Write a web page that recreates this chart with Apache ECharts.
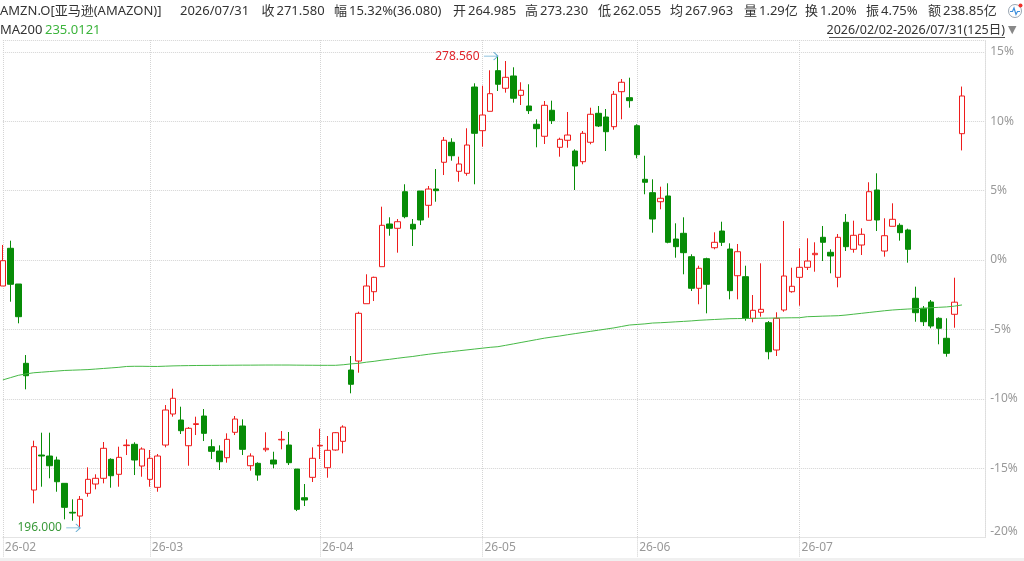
<!DOCTYPE html>
<html>
<head>
<meta charset="utf-8">
<script src="https://cdn.jsdelivr.net/npm/echarts@6/dist/echarts.min.js"></script>
<style>
  html, body { margin: 0; padding: 0; background: #fff; }
  #chart { width: 1024px; height: 561px; }
</style>
</head>
<body>
<div id="chart"></div>
<script>
// trading days per month (2026)
const febDays = [2,3,4,5,6,9,10,11,12,13,17,18,19,20,23,24,25,26,27];
const marDays = [2,3,4,5,6,9,10,11,12,13,16,17,18,19,20,23,24,25,26,27,30,31];
const aprDays = [1,2,6,7,8,9,10,13,14,15,16,17,20,21,22,23,24,27,28,29,30];
const mayDays = [1,4,5,6,7,8,11,12,13,14,15,18,19,20,21,22,26,27,28,29];
const junDays = [1,2,3,4,5,8,9,10,11,12,15,16,17,18,22,23,24,25,26,29,30];
const julDays = [1,2,6,7,8,9,10,13,14,15,16,17,20,21,22,23,24,27,28,29,30,31];

const openPrices = [238.33,244.93,238.68,224.80,202.63,208.75,208.58,207.88,203.80,198.73,
  198.08,202.05,203.68,204.68,208.00,205.38,210.40,210.63,206.83,204.50,
  203.10,210.50,215.93,214.88,210.38,214.10,215.58,210.21,209.45,208.28,
  212.73,213.83,206.88,207.30,209.68,207.88,211.40,210.50,206.30,201.28,
  204.85,210.35,206.53,209.63,211.15,223.63,225.20,235.23,237.33,241.71,
  249.18,248.43,254.83,249.13,254.95,252.45,255.30,259.98,263.48,258.40,
  258.05,273.15,265.51,268.90,276.01,272.93,275.08,271.70,269.83,266.63,
  264.53,269.08,262.60,263.83,261.95,260.08,263.48,268.55,267.90,266.21,
  272.33,271.28,266.38,257.00,254.66,253.08,254.08,246.55,247.55,243.46,
  237.93,243.11,245.03,247.95,244.80,240.13,239.96,232.68,233.73,231.91,
  227.13,234.13,237.33,239.85,241.60,243.81,246.85,244.23,239.85,249.48,
  244.75,245.50,249.83,255.13,244.45,248.78,248.95,248.13,236.18,234.43,
  235.53,232.68,229.18,233.38,264.985];

const closePrices = [242.76,238.63,232.96,222.63,210.21,208.58,206.88,204.08,199.60,198.60,
  201.00,204.50,204.68,209.93,205.13,208.35,210.50,207.88,209.80,208.18,
  208.58,216.63,218.68,213.01,213.43,214.23,212.55,209.40,207.58,211.50,
  215.05,209.75,208.58,205.25,209.93,207.18,211.50,207.41,199.25,200.88,
  208.18,210.45,209.58,212.66,213.65,221.13,233.55,238.33,239.85,248.95,
  248.43,249.58,250.46,248.30,249.88,255.30,255.01,263.83,261.13,259.68,
  263.00,265.05,268.25,271.98,273.63,274.85,271.18,272.58,269.01,265.86,
  269.95,267.26,264.00,264.75,259.33,265.05,268.38,266.33,265.33,271.88,
  273.98,270.76,261.31,256.48,250.05,253.68,245.98,245.21,244.16,237.93,
  241.43,238.63,245.98,245.98,237.51,244.33,232.68,234.08,234.25,226.83,
  232.68,240.08,238.28,241.60,242.70,244.05,245.98,243.58,246.85,245.21,
  247.20,247.38,254.83,249.88,247.13,250.00,247.66,244.75,233.66,232.08,
  231.33,230.93,226.55,235.50,271.58];

const lowPrices = [238.33,235.58,231.80,220.25,200.30,203.21,204.68,202.33,197.50,197.26,
  196.00,201.46,202.75,203.80,203.03,203.21,208.75,205.25,204.96,203.21,
  202.33,210.10,215.46,212.43,206.88,212.25,211.20,208.05,206.13,207.41,
  212.25,208.75,206.01,204.26,209.33,206.43,209.75,207.00,198.95,199.83,
  204.03,208.05,204.78,209.51,209.05,219.55,223.16,235.23,235.70,241.71,
  247.13,244.16,250.18,245.33,249.00,250.28,253.08,257.75,260.26,256.58,
  257.63,256.13,262.71,268.90,272.45,272.16,270.41,270.00,268.43,262.60,
  263.18,266.68,260.96,262.53,255.13,259.63,263.13,266.15,261.95,265.68,
  267.50,269.53,260.68,254.38,247.66,251.75,245.80,243.28,240.38,237.45,
  235.13,233.55,244.75,245.33,236.00,236.00,232.26,231.98,232.96,225.50,
  226.08,233.83,237.16,234.88,241.13,240.83,242.70,240.55,238.10,244.45,
  244.16,243.75,249.83,247.95,243.46,248.78,246.26,242.41,232.08,231.33,
  230.93,228.13,225.96,231.03,262.055];

const highPrices = [245.51,246.26,238.68,226.25,211.26,212.66,212.66,208.46,203.80,201.00,
  201.58,206.60,205.38,211.03,208.18,210.21,211.50,210.98,210.10,209.63,
  208.93,217.50,220.36,217.21,213.65,215.46,216.80,211.50,210.45,212.55,
  215.58,215.00,209.05,207.48,212.73,209.33,212.95,212.78,206.30,203.68,
  210.10,213.36,212.08,212.78,213.95,226.08,233.83,240.38,239.96,252.21,
  250.35,250.05,256.13,250.05,254.95,255.83,258.80,264.40,264.18,260.96,
  265.93,273.80,273.38,276.08,278.56,277.70,276.60,273.98,273.63,267.50,
  270.70,270.76,264.28,268.78,262.25,265.45,269.53,269.83,269.30,272.45,
  274.55,274.78,266.63,261.13,257.00,255.71,256.30,249.30,250.35,243.88,
  241.88,243.28,247.73,249.58,245.80,245.68,241.88,236.75,242.30,232.20,
  233.73,249.70,241.53,244.93,246.68,245.98,248.83,244.75,247.43,250.93,
  249.76,248.43,256.48,258.05,250.18,252.80,249.30,248.36,238.21,234.83,
  235.88,232.85,232.68,239.78,273.23];

const ma200 = [221.9,222.3,222.7,222.95,223.15,223.25,223.35,223.45,223.55,223.6,
  223.65,223.7,223.8,223.9,224.0,224.1,224.25,224.28,224.28,224.26,
  224.25,224.3,224.35,224.38,224.4,224.42,224.43,224.44,224.45,224.46,
  224.47,224.48,224.48,224.49,224.5,224.5,224.5,224.5,224.48,224.47,
  224.46,224.45,224.45,224.45,224.55,224.7,224.8,225.0,225.15,225.35,
  225.5,225.68,225.85,226.0,226.2,226.38,226.55,226.7,226.85,227.0,
  227.15,227.3,227.45,227.6,227.71,227.95,228.2,228.45,228.7,228.95,
  229.2,229.4,229.58,229.8,230.0,230.2,230.4,230.6,230.8,231.0,
  231.25,231.5,231.6,231.7,231.85,231.9,231.98,232.06,232.14,232.22,
  232.33,232.4,232.47,232.54,232.61,232.63,232.65,232.67,232.69,232.71,
  232.73,232.75,232.77,232.78,232.96,233.0,233.05,233.09,233.13,233.25,
  233.4,233.55,233.7,233.85,234.0,234.13,234.22,234.3,234.36,234.42,
  234.53,234.6,234.67,234.8,235.0121];

// 0% reference price of the right-hand percent axis
const basePrice = 242.88;
const pctTicks = [-20, -15, -10, -5, 0, 5, 10, 15];
// quote fields not derivable from OHLC
const avgPrice = '267.963', volumeText = '1.29亿', turnoverText = '1.20%', amountText = '238.85亿';

const categories = [];
[['02', febDays], ['03', marDays], ['04', aprDays], ['05', mayDays], ['06', junDays], ['07', julDays]]
  .forEach(([m, days]) => days.forEach(d => categories.push('2026/' + m + '/' + String(d).padStart(2, '0'))));
const n = categories.length;
const xData = categories.concat(['', '', '']);
const monthStarts = new Set();
categories.forEach((c, i) => { if (i === 0 || c.slice(5, 7) !== categories[i - 1].slice(5, 7)) monthStarts.add(i); });
const isMonthStart = (i) => monthStarts.has(i);

const kData = openPrices.map((o, i) => [o, closePrices[i], lowPrices[i], highPrices[i]]);

const RED = '#ee1c1c', GREEN = '#078c07', GRAY = '#999';
const FONT = '"Noto Sans", "Noto Sans CJK SC", sans-serif';

const last = n - 1;
const close = closePrices[last], prev = closePrices[last - 1];
const chg = close - prev;
const pct = chg / prev * 100;
const amp = (highPrices[last] - lowPrices[last]) / prev * 100;

const minVal = basePrice * (1 + pctTicks[0] / 100);
const stepVal = basePrice * 0.05;
const maxVal = basePrice * 1.1585;

function txt(x, y, rich, text, size, align) {
  return {
    type: 'text', x: x, y: y, silent: true,
    style: { text: text, rich: rich, fill: '#333', font: size + 'px ' + FONT, fontSize: size, fontFamily: FONT, verticalAlign: 'middle', align: align || 'left' }
  };
}
const kv = {
  l: { color: '#333', fontSize: 13, fontFamily: FONT },
  r: { color: RED, fontSize: 13, fontFamily: FONT, padding: [0, 0, 0, 2] },
  d: { color: '#333', fontSize: 13, fontFamily: FONT, padding: [0, 0, 0, 2] }
};

const headerEls = [
  txt(0, 11, null, 'AMZN.O[亚马逊(AMAZON)]', 13),
  txt(180, 11, null, categories[last], 13),
  txt(261.5, 11, kv, '{l|收}{r|' + close.toFixed(3) + '}', 13),
  txt(334, 11, kv, '{l|幅}{r|' + pct.toFixed(2) + '%(' + chg.toFixed(3) + ')}', 13),
  txt(453, 11, kv, '{l|开}{r|' + openPrices[last].toFixed(3) + '}', 13),
  txt(525, 11, kv, '{l|高}{r|' + highPrices[last].toFixed(3) + '}', 13),
  txt(598, 11, kv, '{l|低}{r|' + lowPrices[last].toFixed(3) + '}', 13),
  txt(670, 11, kv, '{l|均}{r|' + avgPrice + '}', 13),
  txt(744, 11, kv, '{l|量}{d|' + volumeText + '}', 13),
  txt(805, 11, kv, '{l|换}{d|' + turnoverText + '}', 13),
  txt(866, 11, kv, '{l|振}{d|' + amp.toFixed(2) + '%}', 13),
  txt(928, 11, kv, '{l|额}{d|' + amountText + '}', 13),
  txt(0, 30, null, 'MA200', 13),
  { type: 'text', x: 45, y: 30, silent: true, style: { text: ma200[last].toFixed(4), fill: '#3cb43c', fontSize: 13, fontFamily: FONT, verticalAlign: 'middle' } },
  txt(1005, 30, null, categories[0] + '-' + categories[last] + '(' + n + '日)', 12.5, 'right'),
  { type: 'line', silent: true, shape: { x1: 829, y1: 37.5, x2: 1005, y2: 37.5 }, style: { stroke: '#555', lineWidth: 1 } },
  { type: 'text', x: 1008, y: 30, silent: true, style: { text: '▼', fill: '#888', fontSize: 11, fontFamily: 'DejaVu Sans', verticalAlign: 'middle' } },
  { type: 'circle', silent: true, shape: { cx: 1015, cy: 11, r: 6.5 }, style: { fill: '#fff', stroke: '#9aa6b2', lineWidth: 1 } },
  { type: 'polyline', silent: true, shape: { points: [[1010, 11.5], [1012.5, 11.5], [1014, 8], [1016, 14.5], [1017.5, 11.5], [1020, 11.5]] }, style: { stroke: '#3d8fdc', lineWidth: 1.2, fill: null } },
  { type: 'circle', silent: true, shape: { cx: 1020.5, cy: 5.5, r: 2 }, style: { fill: '#f0302a' } },
  { type: 'rect', silent: true, shape: { x: 0, y: 558, width: 1024, height: 3 }, style: { fill: '#f0f0f0' } }
];

const chart = echarts.init(document.getElementById('chart'), null, { renderer: 'canvas' });
chart.setOption({
  animation: false,
  backgroundColor: '#fff',
  textStyle: { fontFamily: FONT },
  grid: { left: 2.86, right: 38.8, top: 40, bottom: 23.4, containLabel: false },
  xAxis: {
    type: 'category',
    data: xData,
    boundaryGap: false,
    axisLine: { lineStyle: { color: '#e4e4e4' } },
    axisTick: { interval: isMonthStart, length: 20, lineStyle: { color: '#cfcfcf', type: 'dotted' } },
    axisLabel: {
      interval: isMonthStart, color: GRAY, fontSize: 12, fontFamily: FONT,
      align: 'left', margin: 4, padding: [0, 0, 0, 2],
      formatter: v => v ? v.slice(2, 4) + '-' + v.slice(5, 7) : ''
    },
    splitLine: { show: true, interval: isMonthStart, lineStyle: { color: '#d4d4d4', type: 'dotted' } }
  },
  yAxis: {
    type: 'value',
    position: 'right',
    min: minVal, max: maxVal, interval: stepVal,
    axisLine: { show: true, lineStyle: { color: '#dcdcdc', type: 'dotted' } },
    axisTick: { show: false },
    axisLabel: {
      color: GRAY, fontSize: 12, fontFamily: FONT, margin: 5,
      showMaxLabel: false, verticalAlignMinLabel: 'bottom',
      formatter: v => {
        const p = (v / basePrice - 1) * 100;
        const r = Math.round(p);
        return (Math.abs(p - r) < 0.2 && pctTicks.indexOf(r) >= 0) ? r + '%' : '';
      }
    },
    splitLine: { lineStyle: { color: '#d4d4d4', type: 'dotted' } }
  },
  series: [
    {
      type: 'candlestick',
      data: kData,
      barWidth: 6,
      clip: false,
      itemStyle: { color: '#ffffff', color0: GREEN, borderColor: RED, borderColor0: GREEN, borderWidth: 1 },
      markPoint: {
        silent: true,
        symbol: 'path://M0,4 L13,4 M9,1 L13,4 L9,7',
        symbolSize: [14, 8],
        symbolOffset: ['-50%', 0],
        itemStyle: { color: 'none', borderColor: '#6aaed3', borderWidth: 1 },
        label: { show: true, position: 'left', distance: 1, fontSize: 12, fontFamily: FONT, formatter: p => Number(p.value).toFixed(3) },
        data: [
          { type: 'max', valueDim: 'highest', label: { color: '#e0242a' } },
          { type: 'min', valueDim: 'lowest', label: { color: '#3a9a3a' } }
        ]
      }
    },
    {
      type: 'line',
      data: ma200,
      symbol: 'none',
      silent: true,
      lineStyle: { color: '#46b946', width: 1 }
    }
  ],
  graphic: { elements: headerEls }
});
</script>
</body>
</html>
